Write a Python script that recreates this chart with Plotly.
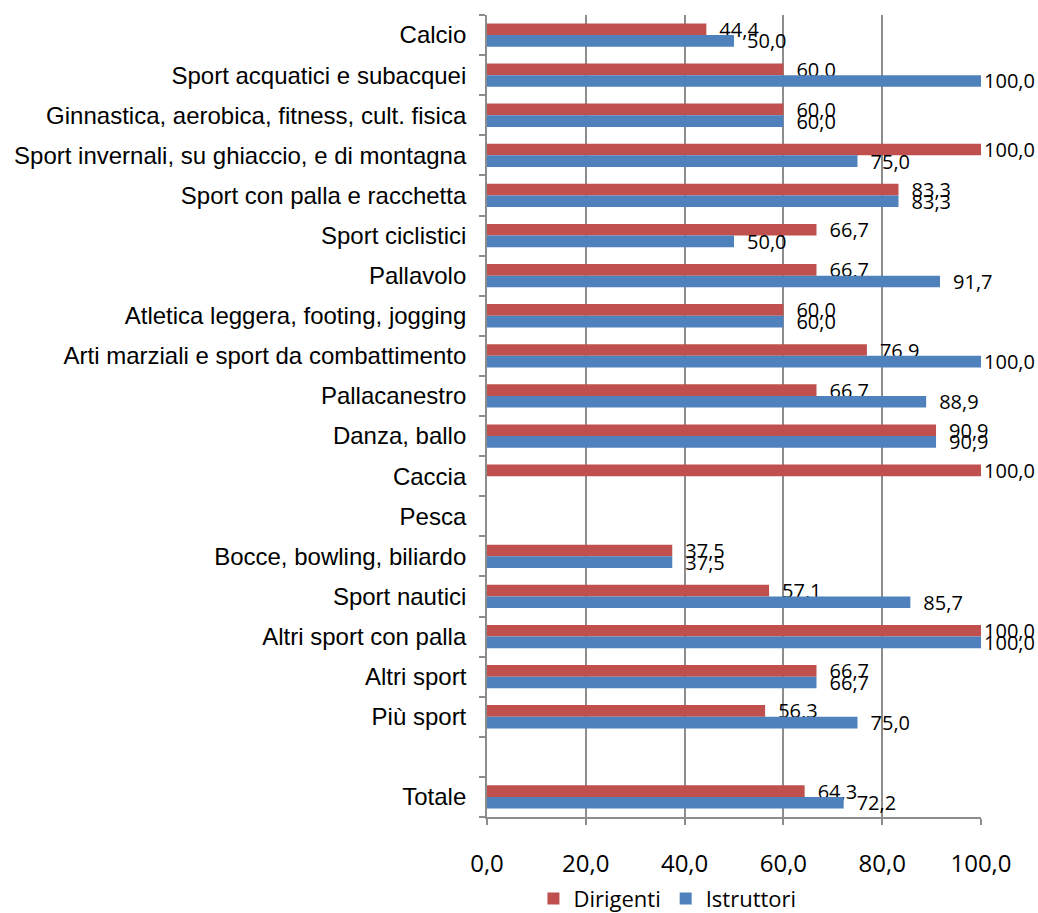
import plotly.graph_objects as go

# Share of sports bodies, by discipline (percent)
categories = [
    "Calcio",
    "Sport acquatici e subacquei",
    "Ginnastica, aerobica, fitness, cult. fisica",
    "Sport invernali, su ghiaccio, e di montagna",
    "Sport con palla e racchetta",
    "Sport ciclistici",
    "Pallavolo",
    "Atletica leggera, footing, jogging",
    "Arti marziali e sport da combattimento",
    "Pallacanestro",
    "Danza, ballo",
    "Caccia",
    "Pesca",
    "Bocce, bowling, biliardo",
    "Sport nautici",
    "Altri sport con palla",
    "Altri sport",
    "Più sport",
    "",
    "Totale",
]

dirigenti = [44.4, 60.0, 60.0, 100.0, 83.3, 66.7, 66.7, 60.0, 76.9, 66.7,
             90.9, 100.0, None, 37.5, 57.1, 100.0, 66.7, 56.3, None, 64.3]
istruttori = [50.0, 100.0, 60.0, 75.0, 83.3, 50.0, 91.7, 60.0, 100.0, 88.9,
              90.9, None, None, 37.5, 85.7, 100.0, 66.7, 75.0, None, 72.2]

x_ticks = [0, 20, 40, 60, 80, 100]

RED = "#C0504D"
BLUE = "#4F81BD"
GRID = "#8C8C8C"
LABEL_FONT = dict(family="Open Sans", size=20, color="black")


def fmt(v):
    return "" if v is None else f"{v:.1f}".replace(".", ",")


def bar_label(v):
    # labels sit a little away from the bar end, except at the full scale
    if v is None:
        return ""
    return ("\u2002" if v < 100 else "") + fmt(v)


rows = list(range(len(categories)))

fig = go.Figure()
for name, values, color in [("Dirigenti", dirigenti, RED),
                            ("Istruttori", istruttori, BLUE)]:
    fig.add_trace(go.Bar(
        y=rows,
        x=values,
        orientation="h",
        name=name,
        marker=dict(color=color, line=dict(width=0)),
        text=[bar_label(v) for v in values],
        textposition="outside",
        constraintext="none",
        cliponaxis=False,
        textfont=LABEL_FONT,
    ))

fig.update_layout(
    width=1038,
    height=913,
    margin=dict(l=487, r=57, t=15, b=96, autoexpand=False),
    paper_bgcolor="white",
    plot_bgcolor="white",
    barmode="group",
    bargap=0.42,
    bargroupgap=0,
    showlegend=True,
    legend=dict(
        orientation="h",
        x=0.094,
        xanchor="left",
        y=-0.102,
        yanchor="middle",
        font=dict(family="Open Sans", size=22, color="black"),
        itemwidth=30,
    ),
)

fig.update_xaxes(
    range=[0, 100],
    automargin=False,
    tickvals=x_ticks,
    ticktext=[fmt(float(v)) for v in x_ticks],
    tickfont=dict(family="Open Sans", size=24, color="black"),
    showgrid=True,
    gridcolor=GRID,
    gridwidth=1.8,
    zeroline=False,
    showline=True,
    linecolor=GRID,
    linewidth=1.8,
    ticks="outside",
    ticklen=6,
    tickwidth=1.8,
    tickcolor=GRID,
    ticklabelstandoff=18,
)

fig.update_yaxes(
    range=[len(categories) - 0.5, -0.5],
    automargin=False,
    tickvals=rows,
    ticktext=categories,
    tickfont=dict(family="Liberation Sans", size=24, color="black"),
    ticks="",
    showgrid=False,
    zeroline=False,
    showline=True,
    linecolor=GRID,
    linewidth=1.8,
    ticklabelstandoff=14,
    minor=dict(
        tickvals=[r - 0.5 for r in rows] + [len(categories) - 0.5],
        ticks="outside",
        ticklen=6,
        tickwidth=1.8,
        tickcolor=GRID,
        showgrid=False,
    ),
)

fig.write_html("out.html")
